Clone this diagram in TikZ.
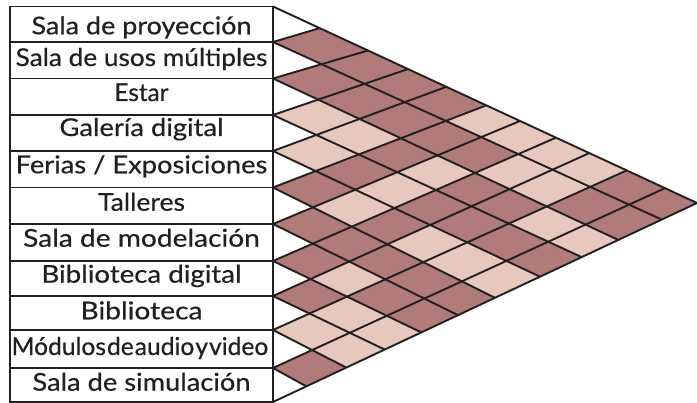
\documentclass[tikz,border=0pt]{standalone}
\usepackage{fontspec}
\setmainfont{Lato}
\newfontfamily\lblfont{Lato}[FakeBold=0.45]
\usepackage{graphicx}
\definecolor{dk}{RGB}{176,123,121}
\definecolor{lt}{RGB}{231,200,188}
\definecolor{ink}{RGB}{35,31,32}
\newcommand{\fitw}[2]{\resizebox{#1}{\height}{#2}}
\tikzset{
  gridline/.style={draw=ink, line width=1.9pt},
  boxline/.style={draw=ink, line width=1.9pt},
  lbl/.style={anchor=base, inner sep=0pt, text=ink, font=\lblfont\fontsize{24.5}{29}\selectfont},
}
\def\myLy{{6.5,42,78.5,115,151,187.5,224,261,296,330,368,402}}
\def\myTx{{273,319.7,368,408,446.3,486.3,520,556,589.3,626.7,665,697}}
\def\myBx{{697,661.7,618.3,581.7,540,495,458,421.3,384.7,346.3,306.3,273}}
\begin{document}
\begin{tikzpicture}[x=1pt,y=-1pt]
\useasboundingbox (0,0) rectangle (697,403);
\fill[white] (0,0) rectangle (697,403);
% left ends of the grid lines (row boundaries) and their far ends
\foreach \k in {0,...,11}{
  \pgfmathsetmacro\myyy{\myLy[\k]}
  \coordinate (L\k) at (273,\myyy);
  \coordinate (R\k) at (10,\myyy);
  \pgfmathsetmacro\mytx{\myTx[\k]}
  \coordinate (T\k) at (\mytx,{6.5+(\mytx-273)*0.46344});
  \pgfmathsetmacro\mybx{\myBx[\k]}
  \coordinate (B\k) at (\mybx,{402-(\mybx-273)*0.46934});
}
% crossing points of down-line a and up-line b
\foreach \a in {0,...,10}{
  \pgfmathtruncatemacro\mybs{max(\a,1)}
  \foreach \b in {\mybs,...,11}{
    \pgfmathsetmacro\myya{\myLy[\a]}
    \pgfmathsetmacro\myyb{\myLy[\b]}
    \pgfmathsetmacro\mybx{\myBx[\a]}
    \pgfmathsetmacro\mytx{\myTx[\b]}
    \pgfmathsetmacro\mysa{(402-(\mybx-273)*0.46934-\myya)/(\mybx-273)}
    \pgfmathsetmacro\myub{(\myyb-6.5-(\mytx-273)*0.46344)/(\mytx-273)}
    \pgfmathsetmacro\myt{(\myyb-\myya)/(\mysa+\myub)}
    \coordinate (P-\a-\b) at ({273+\myt},{\myya+\mysa*\myt});
  }
}
% cells
\foreach \i/\j/\c in {
  1/2/dk,1/3/dk,1/4/dk,1/5/dk,1/6/lt,1/7/lt,1/8/lt,1/9/lt,1/10/dk,1/11/dk,
  2/3/dk,2/4/dk,2/5/dk,2/6/dk,2/7/dk,2/8/lt,2/9/lt,2/10/dk,2/11/dk,
  3/4/lt,3/5/lt,3/6/dk,3/7/lt,3/8/dk,3/9/dk,3/10/lt,3/11/lt,
  4/5/lt,4/6/dk,4/7/lt,4/8/dk,4/9/dk,4/10/dk,4/11/dk,
  5/6/dk,5/7/lt,5/8/dk,5/9/lt,5/10/lt,5/11/lt,
  6/7/dk,6/8/dk,6/9/dk,6/10/dk,6/11/dk,
  7/8/dk,7/9/lt,7/10/dk,7/11/dk,
  8/9/dk,8/10/lt,8/11/lt,
  9/10/lt,9/11/lt,
  10/11/dk}{
  \pgfmathtruncatemacro\myim{\i-1}
  \pgfmathtruncatemacro\myjm{\j-1}
  \fill[\c] (P-\myim-\myjm) -- (P-\myim-\j) -- (P-\i-\j) -- (P-\i-\myjm) -- cycle;
}
% grid lines
\foreach \k in {0,...,10} \draw[gridline] (L\k) -- (B\k);
\foreach \k in {1,...,11} \draw[gridline] (L\k) -- (T\k);
% label column
\draw[boxline] (R0) rectangle (L11);
\foreach \k in {1,...,10} \draw[boxline] (R\k) -- (L\k);
\draw[draw=ink, line width=2.8pt] (L0) -- (L11);
% labels
\node[lbl] (n1)  at (141.5,34.3)  {\fitw{220pt}{Sala de proyección}};
\node[lbl] (n2)  at (141.5,66)    {\fitw{251.7pt}{Sala de usos múltiples}};
\node[lbl] (n3)  at (141.5,101)   {\fitw{54pt}{Estar}};
\node[lbl] (n4)  at (141.5,136)   {\fitw{164pt}{Galería digital}};
\node[lbl] (n5)  at (141.5,173.3) {\fitw{251.7pt}{Ferias / Exposiciones}};
\node[lbl] (n6)  at (141.5,210.7) {\fitw{87pt}{Talleres}};
\node[lbl] (n7)  at (141.5,246.7) {\fitw{236.7pt}{Sala de modelación}};
\node[lbl] (n8)  at (141.5,282.7) {\fitw{200pt}{Biblioteca digital}};
\node[lbl] (n9)  at (141.5,319.3) {\fitw{122pt}{Biblioteca}};
\node[lbl] (n10) at (140,355)     {\fitw{256.7pt}{\spaceskip=1pt Módulos de audio y video}};
\node[lbl] (n11) at (141.5,390.7) {\fitw{218pt}{Sala de simulación}};
\end{tikzpicture}
\end{document}
